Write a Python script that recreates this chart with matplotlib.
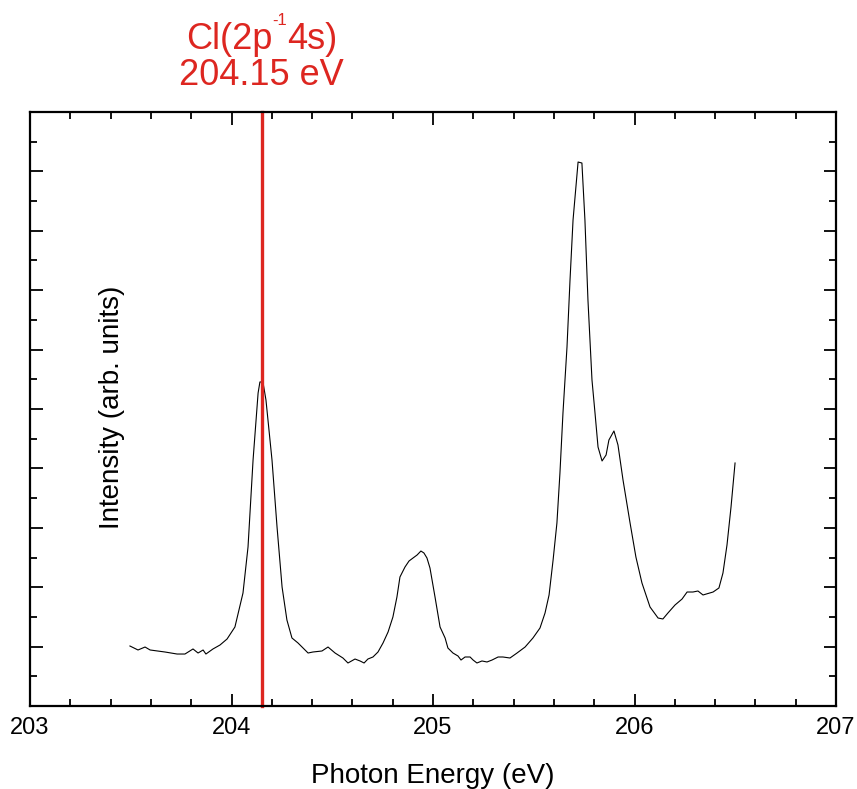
import matplotlib
matplotlib.use("Agg")
import matplotlib.pyplot as plt
from matplotlib.ticker import MultipleLocator, NullFormatter

plt.rcParams['font.family'] = ['Liberation Sans', 'DejaVu Sans']

# Photon energy scan (eV) and measured ion yield (arb. units)
energy = [
    203.496, 203.536, 203.571, 203.596, 203.670, 203.730, 203.769, 203.809,
    203.834, 203.859, 203.873, 203.908, 203.943, 203.978, 204.017, 204.057,
    204.082, 204.107, 204.132, 204.141, 204.156, 204.171, 204.201, 204.226,
    204.251, 204.275, 204.300, 204.330, 204.380, 204.404, 204.449, 204.479,
    204.514, 204.553, 204.578, 204.613, 204.638, 204.658, 204.677, 204.702,
    204.727, 204.752, 204.777, 204.801, 204.821, 204.836, 204.861, 204.881,
    204.901, 204.921, 204.940, 204.955, 204.970, 204.985, 205.010, 205.035,
    205.060, 205.074, 205.099, 205.124, 205.139, 205.159, 205.184, 205.199,
    205.218, 205.243, 205.268, 205.293, 205.323, 205.347, 205.382, 205.417,
    205.457, 205.496, 205.531, 205.556, 205.576, 205.596, 205.615, 205.630,
    205.645, 205.665, 205.680, 205.695, 205.720, 205.739, 205.754, 205.769,
    205.789, 205.804, 205.819, 205.839, 205.859, 205.873, 205.898, 205.918,
    205.943, 205.978, 206.007, 206.037, 206.077, 206.117, 206.141, 206.166,
    206.201, 206.236, 206.261, 206.290, 206.315, 206.340, 206.390, 206.419,
    206.439, 206.459, 206.479, 206.499,
]
intensity = [
    1.010, 0.943, 0.993, 0.943, 0.909, 0.875, 0.875, 0.960,
    0.892, 0.943, 0.875, 0.960, 1.027, 1.128, 1.330, 1.902,
    2.677, 4.141, 5.269, 5.455, 5.455, 5.152, 4.141, 3.013,
    2.003, 1.448, 1.145, 1.061, 0.892, 0.909, 0.926, 0.993,
    0.892, 0.808, 0.724, 0.791, 0.758, 0.724, 0.791, 0.825,
    0.909, 1.061, 1.246, 1.498, 1.835, 2.172, 2.340, 2.441,
    2.492, 2.542, 2.609, 2.576, 2.492, 2.323, 1.835, 1.330,
    1.145, 0.976, 0.892, 0.842, 0.774, 0.825, 0.825, 0.774,
    0.724, 0.758, 0.741, 0.774, 0.825, 0.825, 0.808, 0.892,
    0.993, 1.145, 1.313, 1.566, 1.869, 2.458, 3.081, 3.923,
    4.933, 6.044, 7.172, 8.182, 9.158, 9.141, 8.182, 6.835,
    5.488, 4.933, 4.360, 4.125, 4.226, 4.478, 4.630, 4.394,
    3.805, 3.081, 2.508, 2.071, 1.667, 1.481, 1.465, 1.566,
    1.700, 1.801, 1.919, 1.919, 1.936, 1.869, 1.919, 1.987,
    2.239, 2.710, 3.350, 4.091,
]

# Resonance marker: state label split into base / superscript / rest
resonance_energy = 204.15
state_parts = ["Cl(2p", "-1", "4s)"]
energy_label = "204.15 eV"

x_ticks = [203, 204, 205, 206, 207]
x_range = (203, 207)
y_range = (0, 10)

red = "#dd2620"

W, H = 857, 789
fig = plt.figure(figsize=(W / 100, H / 100), dpi=100)
ax = fig.add_axes([30 / W, 1 - 706 / H, 806 / W, 594 / H])

ax.plot(energy, intensity, color="black", lw=0.8)
ax.plot([resonance_energy, resonance_energy], y_range, color=red, lw=2.4,
        zorder=3, clip_on=False)

ax.set_xlim(*x_range)
ax.set_ylim(*y_range)
ax.set_xticks(x_ticks)
ax.xaxis.set_minor_locator(MultipleLocator(0.2))
ax.yaxis.set_major_locator(MultipleLocator(1))
ax.yaxis.set_minor_locator(MultipleLocator(0.5))
ax.yaxis.set_major_formatter(NullFormatter())

ax.tick_params(which="both", direction="in", top=True, right=True, width=1.3,
               color="black")
ax.tick_params(which="major", length=9, labelsize=17, pad=8)
ax.tick_params(which="minor", length=5)
for s in ax.spines.values():
    s.set_linewidth(1.6)
    s.set_zorder(4)

ax.set_xlabel("Photon Energy (eV)", fontsize=20, labelpad=17)
ax.text(0.102, 0.503, "Intensity (arb. units)", transform=ax.transAxes,
        rotation=90, ha="center", va="center", fontsize=20)

# Red annotation above the marker line
renderer = fig.canvas.get_renderer()
x_center = ax.transData.transform((resonance_energy, 0))[0]
sizes = [26, 12, 26]
baselines = [H - 49, H - 25, H - 49]
widths = []
texts = []
for part, size, base in zip(state_parts, sizes, baselines):
    t = fig.text(0, base / H, part, color=red, fontsize=size,
                 ha="left", va="baseline")
    texts.append(t)
    widths.append(t.get_window_extent(renderer).width)
x0 = x_center - sum(widths) / 2
for t, w in zip(texts, widths):
    t.set_x(x0 / W)
    x0 += w

fig.text(x_center / W, (H - 85) / H, energy_label, color=red, fontsize=26,
         ha="center", va="baseline")

fig.savefig("out.png", dpi=100)
